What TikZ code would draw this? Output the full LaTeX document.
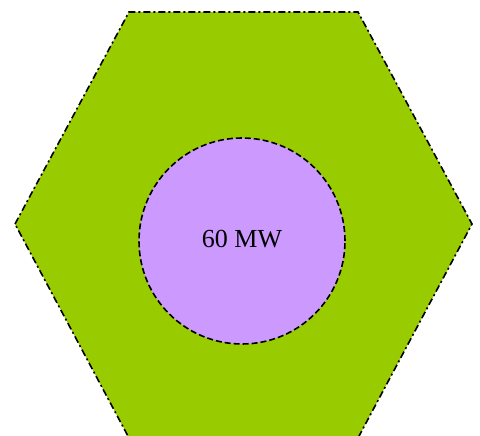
\documentclass[tikz,border=0pt]{standalone}
\usepackage{fontspec}
\setmainfont{Liberation Serif}
\definecolor{HexGreen}{HTML}{99CC00}
\definecolor{CoreLilac}{HTML}{CC99FF}
\tikzset{
  hexzone/.style={fill=HexGreen,draw=black,line width=1.6pt,dash pattern=on 7pt off 3pt on 2pt off 3pt},
  corezone/.style={circle,fill=CoreLilac,draw=black,line width=1.6pt,dash pattern=on 6pt off 3pt,minimum size=206pt,inner sep=0pt,font=\fontsize{26}{30}\selectfont},
}
\begin{document}
\begin{tikzpicture}[x=1pt,y=1pt]
  \useasboundingbox (0,0) rectangle (480,436);
  \clip (0,0) rectangle (480,436);
  % outer zone
  \coordinate (hexw) at (15,212);
  \coordinate (hexnw) at (129,424);
  \coordinate (hexne) at (358,424);
  \coordinate (hexe) at (472,212);
  \coordinate (hexse) at (358,-2);
  \coordinate (hexsw) at (129,-2);
  \draw[hexzone] (hexw) -- (hexnw) -- (hexne) -- (hexe) -- (hexse) -- (hexsw) -- cycle;
  % inner zone
  \node[corezone] (core) at (242,195) {\raisebox{4pt}{60 MW}};
\end{tikzpicture}
\end{document}
